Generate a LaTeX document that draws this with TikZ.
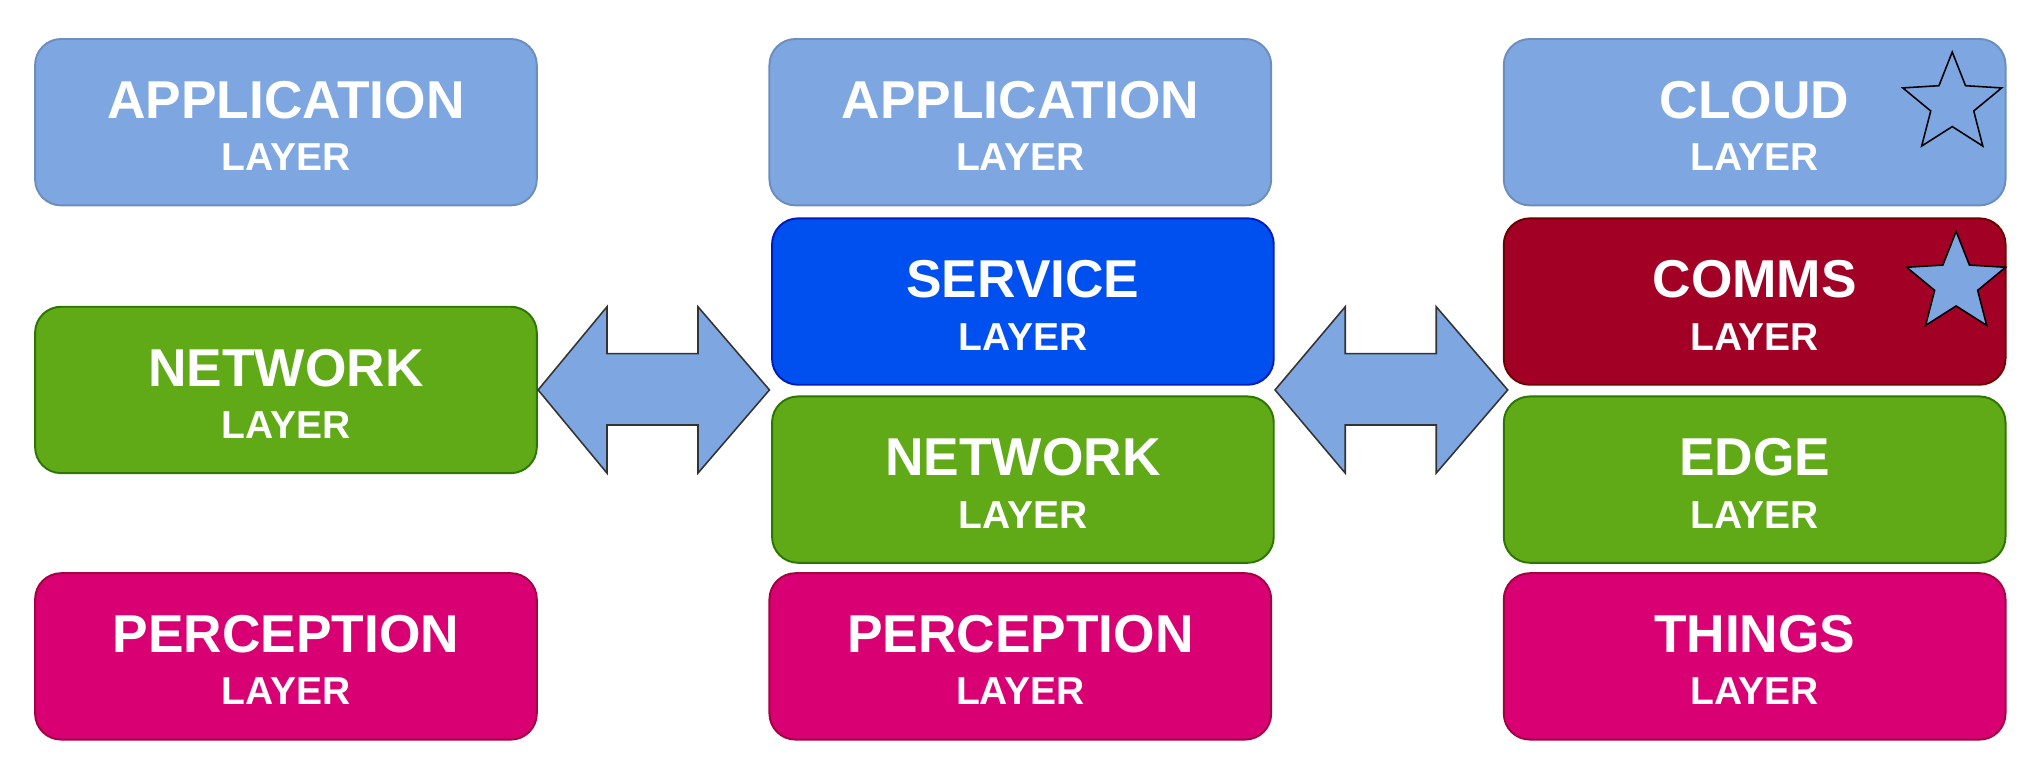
\documentclass[tikz,border=0pt]{standalone}
\usepackage{fontspec}
\setmainfont{Liberation Sans}
\usetikzlibrary{shapes.geometric}
\definecolor{bF}{HTML}{7EA6E0}\definecolor{bS}{HTML}{6C8EBF}
\definecolor{sF}{HTML}{0050EF}\definecolor{sS}{HTML}{001DBC}
\definecolor{gF}{HTML}{60A917}\definecolor{gS}{HTML}{2D7600}
\definecolor{rF}{HTML}{A20025}\definecolor{rS}{HTML}{6F0000}
\definecolor{pF}{HTML}{D80073}\definecolor{pS}{HTML}{A50040}
\begin{document}
\begin{tikzpicture}[x=1pt,y=-1pt,
 box/.style={rounded corners=20pt,line width=1.5pt},
 t1/.style={text=white,font=\fontsize{41}{43}\selectfont\bfseries},
 t2/.style={text=white,font=\fontsize{30}{32}\selectfont\bfseries},
 arr/.style={fill=bF,draw=black!80,line width=1.2pt,line join=miter},
 mystar/.style={star,star points=5,star point ratio=2.3,minimum size=80pt,inner sep=0pt,draw=black,line width=1.2pt}]
\useasboundingbox (0,0) rectangle (1568,595);
\newcommand{\lbox}[6]{%
 \draw[box,fill=#4,draw=#5] (#2,#3) rectangle ++(386,128);
 \node[t1] (#1t) at (#2+193,#3+47) {#6};
 \node[t2] (#1l) at (#2+193,#3+91) {LAYER};
 \coordinate (#1) at (#2+193,#3+64);}
\lbox{a1}{27}{30}{bF}{bS}{APPLICATION}
\lbox{n1}{27}{236}{gF}{gS}{NETWORK}
\lbox{p1}{27}{441}{pF}{pS}{PERCEPTION}
\lbox{a2}{592}{30}{bF}{bS}{APPLICATION}
\lbox{s2}{594}{168}{sF}{sS}{SERVICE}
\lbox{n2}{594}{305}{gF}{gS}{NETWORK}
\lbox{p2}{592}{441}{pF}{pS}{PERCEPTION}
\lbox{c3}{1157}{30}{bF}{bS}{CLOUD}
\lbox{m3}{1157}{168}{rF}{rS}{COMMS}
\lbox{e3}{1157}{305}{gF}{gS}{EDGE}
\lbox{t3}{1157}{441}{pF}{pS}{THINGS}
\node[mystar] (st1) at (1502,80) {};
\node[mystar,fill=bF] (st2) at (1505,218) {};
\draw[arr] (414,300)--(467,236)--(467,272)--(537,272)--(537,236)--(592,300)--(537,364)--(537,327)--(467,327)--(467,364)--cycle;
\draw[arr] (981,300)--(1035,236)--(1035,272)--(1105,272)--(1105,236)--(1160,300)--(1105,364)--(1105,327)--(1035,327)--(1035,364)--cycle;
\end{tikzpicture}
\end{document}
